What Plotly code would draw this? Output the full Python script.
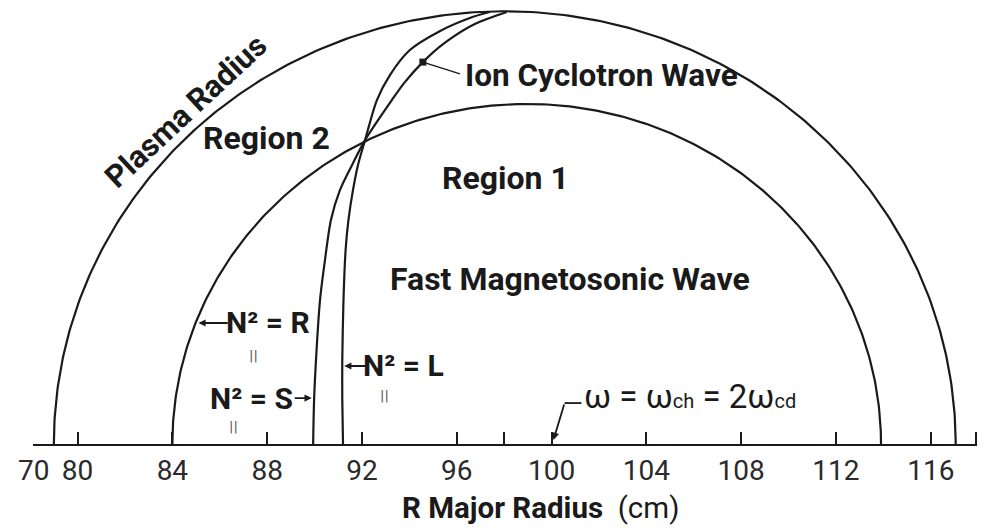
import numpy as np
import plotly.graph_objects as go

# ---------------- data ----------------
# x-axis ticks (the first one is the broken-axis "70" label)
tick_positions = [78.15, 80, 84, 88, 92, 96, 98, 100, 104, 108, 112, 116, 117.9]
tick_labels = ["70", "80", "84", "88", "92", "96", "", "100", "104", "108", "112", "116", ""]

# semicircular boundaries: feet on the R axis (cm)
plasma_feet = [79.0, 117.05]
region1_feet = [84.0, 113.9]

# N||^2 = S curve (R cm, height cm)
s_curve_x = [89.94, 89.98, 90.06, 90.23, 90.44, 90.69, 91.07, 91.58, 92.13,
             93.26, 93.81, 94.57, 95.49, 96.76, 98.11]
s_curve_y = [0.0, 1.93, 3.69, 6.33, 8.09, 9.85, 11.16, 12.26, 13.36,
             15.12, 15.91, 16.79, 17.63, 18.46, 18.99]
# N||^2 = L curve
l_curve_x = [91.20, 91.17, 91.17, 91.22, 91.31, 91.43, 91.62, 91.83, 92.13,
             92.63, 93.18, 94.02, 95.28, 96.55, 97.39]
l_curve_y = [0.0, 1.93, 3.69, 6.33, 8.53, 9.85, 11.16, 12.26, 13.36,
             15.12, 16.22, 17.32, 18.15, 18.73, 18.99]
ion_cyclotron_index = 11  # point on S curve marked by the square

FONT = "Roboto, 'Open Sans', sans-serif"
INK = "#1a1a1a"


def semicircle(feet, n=300):
    c = (feet[0] + feet[1]) / 2.0
    r = (feet[1] - feet[0]) / 2.0
    t = np.linspace(np.pi, 0, n)
    return c + r * np.cos(t), r * np.sin(t)


fig = go.Figure()
for feet in (plasma_feet, region1_feet):
    cx, cy = semicircle(feet)
    fig.add_trace(go.Scatter(x=cx, y=cy, mode="lines",
                             line=dict(color=INK, width=2.2), hoverinfo="skip"))
for xs, ys in ((s_curve_x, s_curve_y), (l_curve_x, l_curve_y)):
    fig.add_trace(go.Scatter(x=xs, y=ys, mode="lines",
                             line=dict(color=INK, width=2.2, shape="spline", smoothing=0.8),
                             hoverinfo="skip"))
# marker for ion cyclotron wave
fig.add_trace(go.Scatter(x=[s_curve_x[ion_cyclotron_index]], y=[s_curve_y[ion_cyclotron_index]],
                         mode="markers", marker=dict(symbol="square", size=7, color=INK),
                         hoverinfo="skip", cliponaxis=False))

ann = []


def label(text, x, y, size=32, bold=True, angle=0, xanchor="center", family=FONT, color=INK):
    ann.append(dict(text=text, x=x, y=y, xref="x", yref="y", showarrow=False,
                    textangle=angle, xanchor=xanchor, yanchor="middle",
                    font=dict(family=family, size=size, color=color,
                              weight="bold" if bold else "normal")))


def arrow(x, y, ax, ay, head=2, width=1.8, size=1.0):
    ann.append(dict(text="", x=x, y=y, ax=ax, ay=ay, xref="x", yref="y",
                    axref="x", ayref="y", showarrow=True, arrowhead=head,
                    arrowwidth=width, arrowsize=size, arrowcolor=INK, standoff=0))


PAR = "DejaVu Sans"
PARC = "#555555"
label("Plasma Radius", 84.55, 14.64, size=31, angle=-43)
label("Region 2", 87.96, 13.45, size=32)
label("Region 1", 98.06, 11.69, size=32)
label("Fast Magnetosonic Wave", 100.76, 7.25, size=32)
label("Ion Cyclotron Wave", 96.25, 16.2, size=31.5, xanchor="left")
# connector from marker to text
arrow(s_curve_x[ion_cyclotron_index], s_curve_y[ion_cyclotron_index], 96.2, 16.25, head=0, width=1.4)

label("N² = R", 88.05, 5.32, size=30)
label("||", 87.41, 3.91, size=13, bold=False, family=PAR, color=PARC)
arrow(85.1, 5.32, 86.4, 5.32, head=2, width=1.8, size=0.8)

label("N² = L", 93.75, 3.43, size=30)
label("||", 92.95, 2.12, size=13, bold=False, family=PAR, color=PARC)
arrow(91.25, 3.43, 92.3, 3.43, head=2, width=1.8, size=0.8)

label("N² = S", 87.32, 2.02, size=30)
label("||", 86.57, 0.75, size=13, bold=False, family=PAR, color=PARC)
arrow(89.88, 2.02, 89.1, 2.02, head=2, width=1.8, size=0.8)

# omega annotation
ann.append(dict(text="ω = ω<span style='font-size:20px'>ch</span> = 2ω<span style='font-size:20px'>cd</span>",
                x=101.28, y=2.1, xref="x", yref="y", showarrow=False, xanchor="left",
                yanchor="middle", font=dict(family=FONT, size=33, color=INK)))
arrow(100.08, 0.18, 100.55, 1.80, head=2, width=1.8, size=0.8)

# axis title (paper coords are relative to the plot area: x 33..977 px, y 0..444 px)
ann.append(dict(text="<b>R Major Radius</b>  (cm)", x=(540 - 33) / 944, y=(444 - 508) / 444,
                xref="paper", yref="paper", showarrow=False, xanchor="center",
                yanchor="middle", font=dict(family=FONT, size=29.5, color=INK)))

fig.add_shape(type="line", x0=100.55, y0=1.80, x1=101.26, y1=1.80, xref="x", yref="y",
              line=dict(color=INK, width=1.8))

fig.update_layout(
    width=984, height=532,
    margin=dict(l=33, r=7, t=0, b=88),
    paper_bgcolor="white", plot_bgcolor="white",
    showlegend=False,
    annotations=ann,
    xaxis=dict(range=[78.12, 117.95], showline=True, linecolor=INK, linewidth=2,
               ticks="inside", ticklen=12, tickwidth=2, tickcolor=INK,
               tickvals=tick_positions, ticktext=tick_labels,
               tickfont=dict(family=FONT, size=28, color="#2a2a2a"),
               showgrid=False, zeroline=False, fixedrange=True),
    yaxis=dict(range=[0, 19.52], visible=False, showgrid=False, zeroline=False,
               fixedrange=True),
)

fig.write_html("out.html")
